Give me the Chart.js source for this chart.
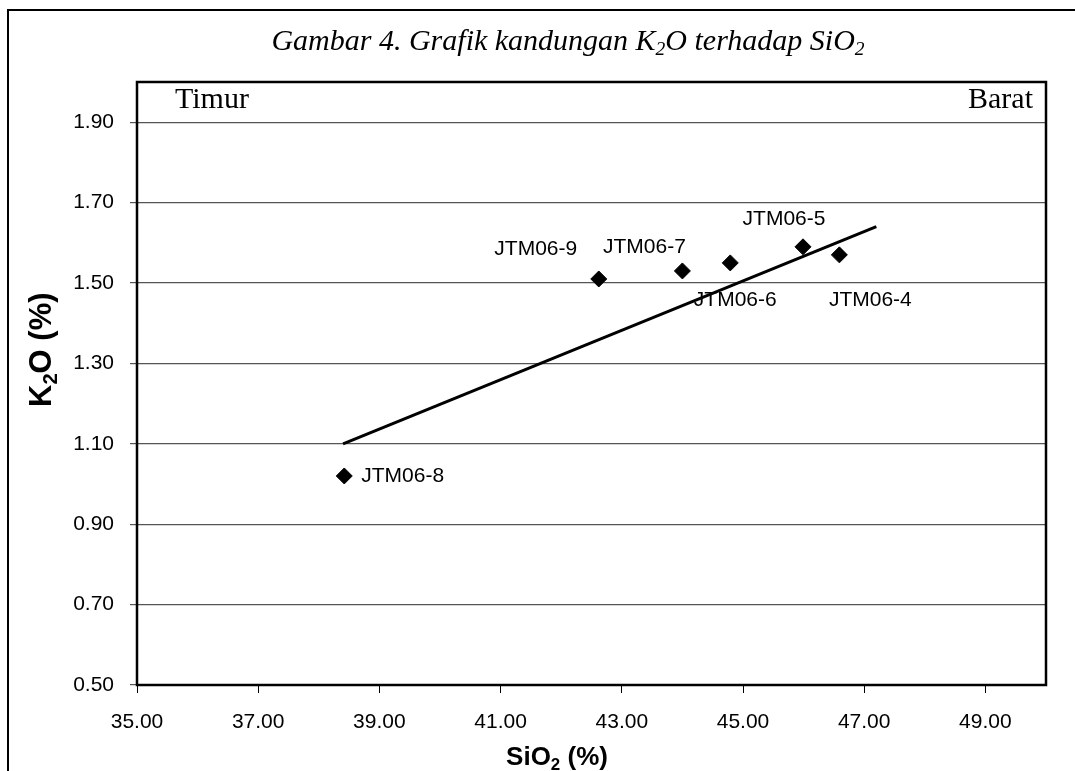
<!DOCTYPE html>
<html>
<head>
<meta charset="utf-8">
<script src="https://cdn.jsdelivr.net/npm/chart.js@4.4.1/dist/chart.umd.min.js"></script>
<style>
  html, body { margin: 0; padding: 0; background: #fff; }
  #chart { display: block; }
</style>
</head>
<body>
<canvas id="chart" width="1075" height="771"></canvas>
<script>
// samples (SiO2 %, K2O %)
const sampleNames = ["JTM06-8", "JTM06-9", "JTM06-7", "JTM06-6", "JTM06-5", "JTM06-4"];
const sio2 = [38.42, 42.62, 44.00, 44.79, 45.99, 46.59];
const k2o = [1.02, 1.51, 1.53, 1.55, 1.59, 1.57];

// trend line end points
const trendX = [38.40, 47.20];
const trendY = [1.10, 1.64];

// tick labels
const xTicks = [35, 37, 39, 41, 43, 45, 47, 49];
const yTicks = [0.5, 0.7, 0.9, 1.1, 1.3, 1.5, 1.7, 1.9];

// where each sample label sits relative to its point (px)
const labelPlace = {
    "JTM06-8": { dx: 17, dy: 0, align: "left" },
    "JTM06-9": { dx: -63, dy: -30, align: "center" },
    "JTM06-7": { dx: -38, dy: -24, align: "center" },
    "JTM06-6": { dx: 5, dy: 37, align: "center" },
    "JTM06-5": { dx: -19, dy: -28, align: "center" },
    "JTM06-4": { dx: 31, dy: 45, align: "center" },
};

const sans = '"Liberation Sans", Arial, sans-serif';
const serif = '"Liberation Serif", "Times New Roman", serif';

// draws text with subscript pieces: parts = [[text, isSub], ...]
function richText(ctx, parts, x, y, size, style, family, align) {
    const font = (s) => `${style} ${s}px ${family}`;
    let total = 0;
    parts.forEach(([t, sub]) => {
        ctx.font = font(sub ? size * 0.65 : size);
        total += ctx.measureText(t).width;
    });
    let cx = x;
    if (align === "center") cx = x - total / 2;
    if (align === "right") cx = x - total;
    ctx.textAlign = "left";
    ctx.textBaseline = "alphabetic";
    parts.forEach(([t, sub]) => {
        ctx.font = font(sub ? size * 0.65 : size);
        ctx.fillText(t, cx, sub ? y + size * 0.18 : y);
        cx += ctx.measureText(t).width;
    });
}

const decorations = {
    id: "decorations",
    afterDraw(chart) {
        const ctx = chart.ctx;
        const area = chart.chartArea;
        const xs = chart.scales.x, ys = chart.scales.y;
        ctx.save();
        ctx.fillStyle = "#000";
        ctx.strokeStyle = "#000";

        // page frame (left and top only)
        ctx.lineWidth = 2;
        ctx.beginPath();
        ctx.moveTo(8, 771);
        ctx.lineTo(8, 10);
        ctx.lineTo(1075, 10);
        ctx.stroke();

        // plot area border
        ctx.lineWidth = 2.5;
        ctx.strokeRect(area.left, area.top, area.right - area.left, area.bottom - area.top);

        // title
        richText(ctx, [["Gambar 4. Grafik kandungan K", false], ["2", true], ["O terhadap SiO", false], ["2", true]],
            568, 50, 30, "italic", serif, "center");

        // direction notes
        ctx.font = `30px ${serif}`;
        ctx.textBaseline = "alphabetic";
        ctx.textAlign = "left";
        ctx.fillText("Timur", area.left + 38, 108);
        ctx.textAlign = "right";
        ctx.fillText("Barat", area.right - 13, 108);

        // axis titles
        richText(ctx, [["SiO", false], ["2", true], [" (%)", false]], 557, 765, 26, "bold", sans, "center");
        ctx.save();
        ctx.translate(51, 407);
        ctx.rotate(-Math.PI / 2);
        richText(ctx, [["K", false], ["2", true], ["O (%)", false]], 0, 0, 31, "bold", sans, "left");
        ctx.restore();

        // sample labels
        ctx.font = `21px ${sans}`;
        ctx.textBaseline = "middle";
        sampleNames.forEach((name, i) => {
            const p = labelPlace[name];
            ctx.textAlign = p.align;
            ctx.fillText(name, xs.getPixelForValue(sio2[i]) + p.dx, ys.getPixelForValue(k2o[i]) + p.dy);
        });
        ctx.restore();
    }
};

new Chart(document.getElementById("chart"), {
    type: "scatter",
    plugins: [decorations],
    data: {
        datasets: [
            {
                label: "Sampel",
                data: sio2.map((x, i) => ({ x: x, y: k2o[i] })),
                pointStyle: "rectRot",
                pointRadius: 8,
                backgroundColor: "#000",
                borderColor: "#000",
                borderWidth: 1,
            },
            {
                label: "Trend",
                type: "line",
                data: trendX.map((x, i) => ({ x: x, y: trendY[i] })),
                borderColor: "#000",
                borderWidth: 3,
                pointRadius: 0,
                fill: false,
            },
        ],
    },
    options: {
        responsive: false,
        animation: false,
        layout: {
            padding: { top: 82, right: 29, left: 0, bottom: 0 },
        },
        plugins: {
            legend: { display: false },
            tooltip: { enabled: false },
            title: { display: false },
        },
        scales: {
            x: {
                type: "linear",
                min: 35,
                max: 50,
                afterBuildTicks: (scale) => { scale.ticks = xTicks.map((v) => ({ value: v })); },
                afterFit: (scale) => { scale.height = 86; },
                ticks: {
                    callback: (v) => Number(v).toFixed(2),
                    color: "#000",
                    font: { family: sans, size: 21 },
                    padding: 17,
                    maxRotation: 0,
                    autoSkip: false,
                },
                grid: {
                    drawOnChartArea: false,
                    drawTicks: true,
                    tickLength: 8,
                    color: "#000",
                },
                border: { display: false },
            },
            y: {
                type: "linear",
                min: 0.5,
                max: 2.0,
                afterBuildTicks: (scale) => { scale.ticks = yTicks.map((v) => ({ value: v })); },
                afterFit: (scale) => { scale.width = 137; },
                ticks: {
                    callback: (v) => Number(v).toFixed(2),
                    color: "#000",
                    font: { family: sans, size: 21 },
                    padding: 16,
                    autoSkip: false,
                },
                grid: {
                    color: "#555",
                    lineWidth: 1.2,
                    tickLength: 7,
                },
                border: { display: false },
            },
        },
    },
});
</script>
</body>
</html>
